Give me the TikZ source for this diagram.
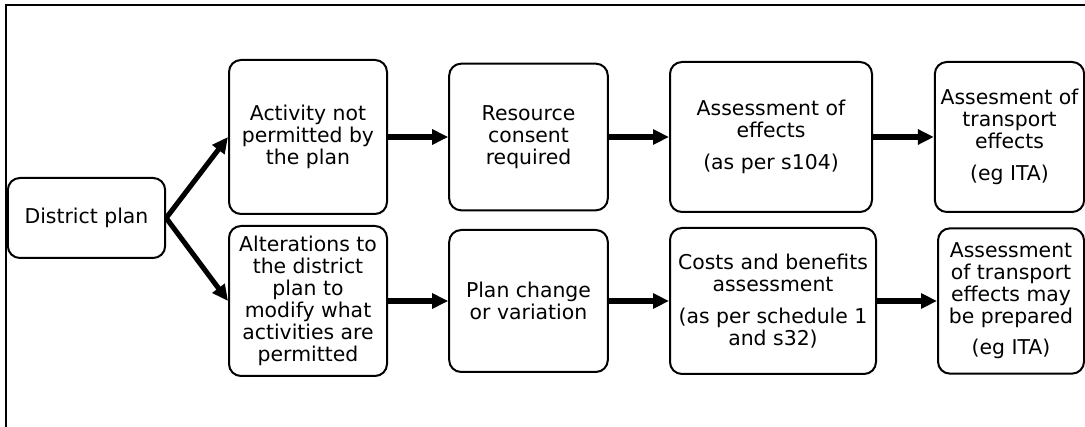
\documentclass[tikz,border=0pt]{standalone}
\usepackage{fontspec}
\setmainfont{DejaVu Sans}
\usepackage{tikz}
\usetikzlibrary{arrows.meta,positioning}

\begin{document}
\begin{tikzpicture}[
    x=0.75pt, y=-0.75pt,
    mybox/.style={
    rectangle,
    rounded corners=9pt,
    draw=black,
    line width=1.5pt,
    align=center,
    inner sep=0pt,
    font=\fontsize{15.3}{16.5}\selectfont},
    myarrow/.style={-{Triangle[length=12pt,width=11pt]},line width=3.8pt}
    ]

    \useasboundingbox (0,0) rectangle (1085,427);
    \draw[line width=1.2pt] (6,5) rectangle (1110,445);

    \node[mybox, minimum width=118pt, minimum height=60pt] (dist) at (86.5,218) {District plan};

    \node[mybox, minimum width=118.5pt, minimum height=115.5pt] (act) at (308,137)
        {Activity not\\permitted by\\the plan};
    \node[mybox, minimum width=118.5pt, minimum height=112.5pt] (alt) at (308,301)
        {Alterations to\\the district\\plan to\\modify what\\activities are\\permitted};

    \node[mybox, minimum width=119pt, minimum height=110pt] (res) at (528.5,137)
        {Resource\\consent\\required};
    \node[mybox, minimum width=119pt, minimum height=106.5pt] (chg) at (528.5,301)
        {Plan change\\or variation};

    \node[mybox, minimum width=151.5pt, minimum height=112.5pt] (aoe) at (771,137)
        {Assessment of\\effects\\[7pt](as per s104)};
    \node[mybox, minimum width=154.5pt, minimum height=109.5pt] (cba) at (773,301)
        {Costs and benefits\\assessment\\[7pt](as per schedule 1\\and s32)};

    \node[mybox, minimum width=112pt, minimum height=112.5pt] (ita) at (1009.5,137)
        {Assesment of\\transport\\effects\\[7pt](eg ITA)};
    \node[mybox, minimum width=109.5pt, minimum height=109pt] (ita2) at (1011,301)
        {Assessment\\of transport\\effects may\\be prepared\\[7pt](eg ITA)};

    \draw[myarrow] (dist.east) -- (act.west);
    \draw[myarrow] (dist.east) -- (alt.west);
    \draw[myarrow] (act.east) -- (res.west);
    \draw[myarrow] (res.east) -- (aoe.west);
    \draw[myarrow] (aoe.east) -- (ita.west);
    \draw[myarrow] (alt.east) -- (chg.west);
    \draw[myarrow] (chg.east) -- (cba.west);
    \draw[myarrow] (cba.east) -- (ita2.west);
\end{tikzpicture}
\end{document}
